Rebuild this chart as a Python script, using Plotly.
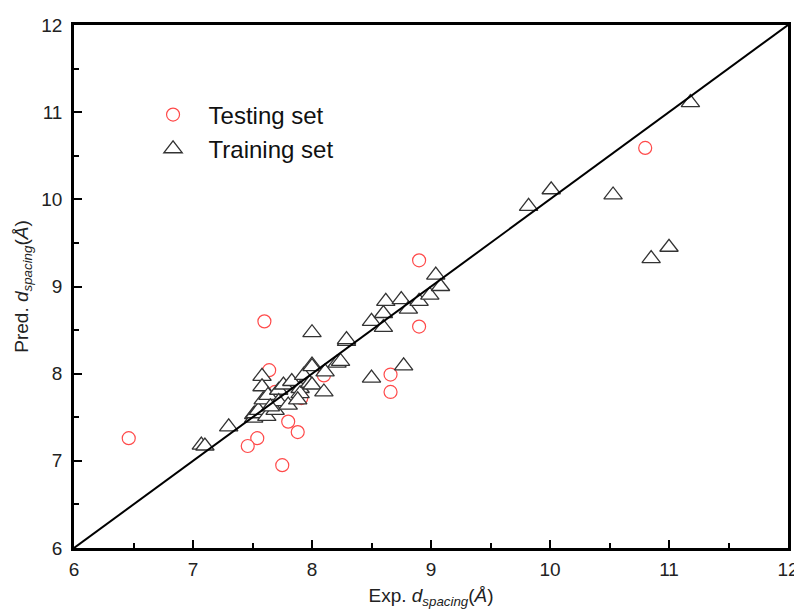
import plotly.graph_objects as go

# Testing set (red circles)
test_exp = [6.46, 7.60, 7.64, 8.10, 7.69, 7.91, 7.80, 7.88, 7.54, 7.46, 7.75,
            8.90, 8.90, 8.66, 8.66, 10.80]
test_pred = [7.26, 8.60, 8.04, 7.98, 7.79, 7.72, 7.45, 7.33, 7.26, 7.17, 6.95,
             9.30, 8.54, 7.99, 7.79, 10.59]

# Training set (triangles)
train_exp = [7.07, 7.10, 7.30, 7.51, 7.51, 7.52, 7.55, 7.62, 7.58, 7.58, 7.59,
             7.63, 7.69, 7.72, 7.72, 7.76, 7.80, 7.83, 7.90, 7.90, 7.93, 7.98,
             8.00, 8.00, 8.00, 8.00, 8.10, 8.11, 8.21, 8.24, 8.29, 8.29, 8.50,
             8.50, 8.60, 8.60, 8.62, 8.75, 8.77, 8.81, 8.90, 8.99, 9.04, 9.08,
             9.82, 10.01, 10.53, 10.85, 11.00, 11.18, 7.88, 7.65]
train_pred = [7.18, 7.17, 7.39, 7.53, 7.49, 7.54, 7.58, 7.51, 7.97, 7.85, 7.70,
              7.75, 7.58, 7.81, 7.68, 7.87, 7.64, 7.91, 7.83, 7.77, 7.98, 7.89,
              8.10, 8.08, 7.87, 8.47, 7.79, 8.02, 8.12, 8.14, 8.37, 8.39, 8.60,
              7.95, 8.69, 8.53, 8.83, 8.85, 8.09, 8.74, 8.83, 8.90, 9.13, 9.00,
              9.92, 10.11, 10.05, 9.32, 9.45, 11.11, 7.70, 7.62]

# Identity line
diag = [6, 12]

FONT = "Liberation Sans, Arial"

fig = go.Figure()
fig.add_trace(go.Scatter(
    x=test_exp, y=test_pred, mode="markers", name="Testing set",
    marker=dict(symbol="circle", size=13, color="white",
                line=dict(color="#ff4a4a", width=1.2)),
))
fig.add_trace(go.Scatter(
    x=train_exp, y=train_pred, mode="markers", name="Training set",
    marker=dict(symbol="triangle-up", size=16, color="white",
                line=dict(color="#333333", width=1.3)),
))
fig.add_trace(go.Scatter(
    x=diag, y=diag, mode="lines", showlegend=False,
    line=dict(color="black", width=2),
))

axis_common = dict(
    range=[6, 12], dtick=1, showline=True, linecolor="black", linewidth=2.5,
    mirror=True, ticks="inside", ticklen=8, tickwidth=2, tickcolor="black",
    showgrid=False, zeroline=False, automargin=False,
    minor=dict(ticks="inside", ticklen=5, tickwidth=2, dtick=0.5, tickcolor="black"),
    tickfont=dict(family=FONT, size=19, color="#222"),
)

fig.update_layout(
    width=802, height=612,
    margin=dict(l=66, r=22, t=17, b=72),
    plot_bgcolor="white", paper_bgcolor="white",
    xaxis=dict(**axis_common, ticklabelstandoff=2,
               title=dict(text="Exp. <i>d</i><sub><i>spacing</i></sub>(<i>Å</i>)",
                          font=dict(family=FONT, size=19, color="#222"),
                          standoff=11)),
    yaxis=dict(**axis_common, ticklabelstandoff=5,
               title=dict(text="Pred. <i>d</i><sub><i>spacing</i></sub>(<i>Å</i>)",
                          font=dict(family=FONT, size=19, color="#222"),
                          standoff=8)),
    legend=dict(x=0.089, y=0.871, xanchor="left", yanchor="top",
                itemwidth=61,
                bgcolor="rgba(0,0,0,0)", borderwidth=0,
                font=dict(family=FONT, size=24, color="#111")),
    showlegend=True,
)

fig.write_html("out.html")
